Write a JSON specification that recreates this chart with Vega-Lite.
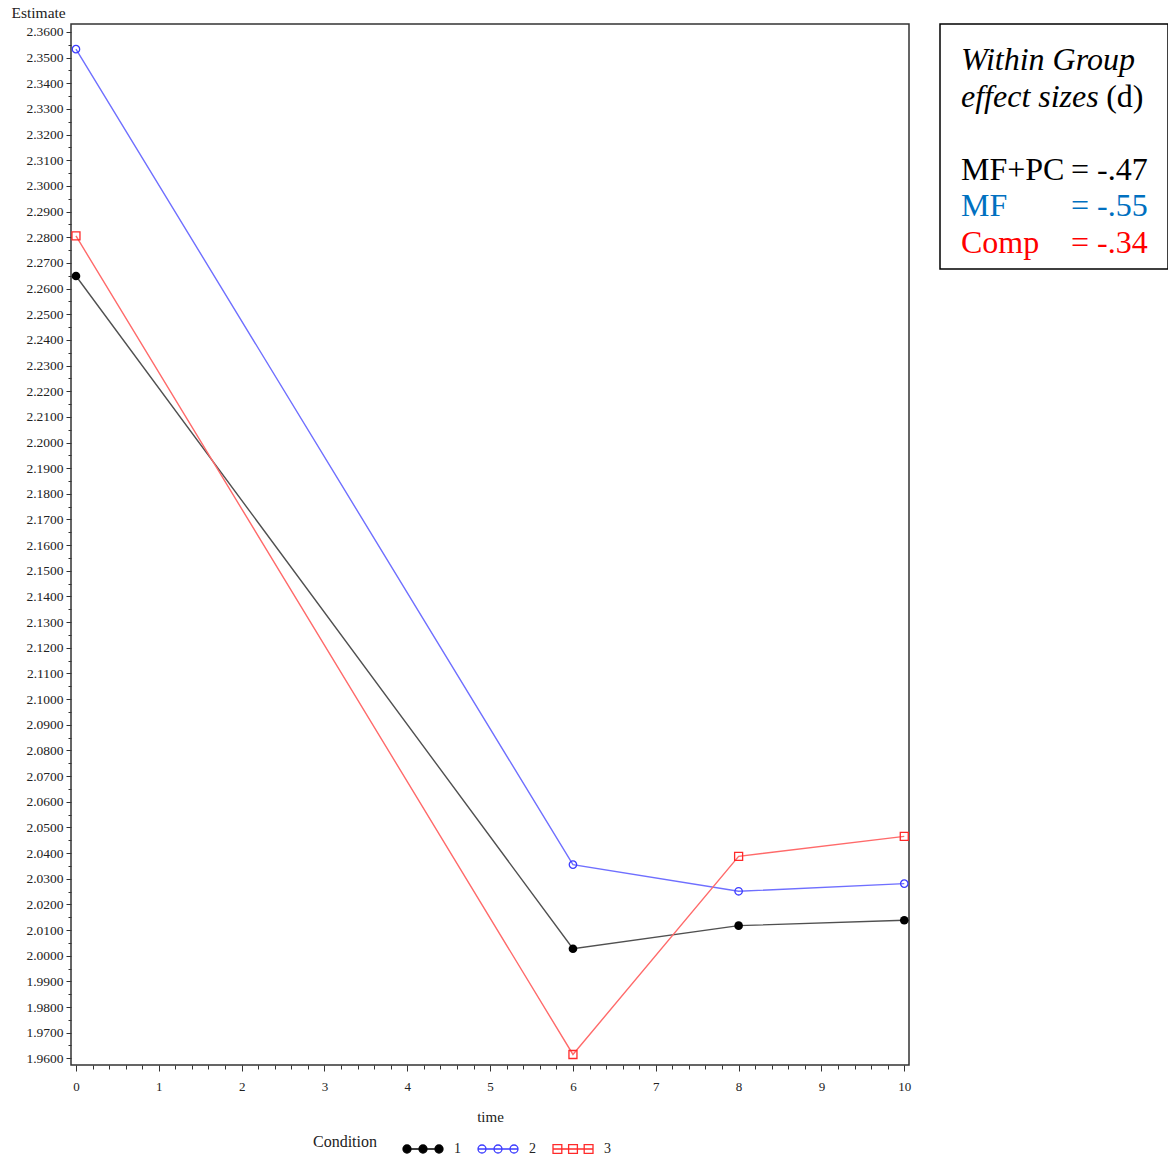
{
  "$schema": "https://vega.github.io/schema/vega-lite/v6.json",
  "background": "white",
  "autosize": {"type": "pad"},
  "padding": {"left": 10, "top": 4, "right": 0, "bottom": 0},
  "bounds": "flush",
  "spacing": 31,
  "config": {"view": {"stroke": null}, "font": "Liberation Serif"},
  "resolve": {"scale": {"x": "independent", "y": "independent", "fill": "independent", "stroke": "independent", "shape": "independent"}},
  "hconcat": [
    {
      "width": 838,
      "height": 1041,
      "view": {"stroke": "#333333", "strokeWidth": 1.5},
      "data": {"values": [
        {"Condition": 1, "time": 0, "Estimate": 2.2649},
        {"Condition": 1, "time": 6, "Estimate": 2.0027},
        {"Condition": 1, "time": 8, "Estimate": 2.0117},
        {"Condition": 1, "time": 10, "Estimate": 2.0138},
        {"Condition": 2, "time": 0, "Estimate": 2.3533},
        {"Condition": 2, "time": 6, "Estimate": 2.0355},
        {"Condition": 2, "time": 8, "Estimate": 2.0251},
        {"Condition": 2, "time": 10, "Estimate": 2.0281},
        {"Condition": 3, "time": 0, "Estimate": 2.2805},
        {"Condition": 3, "time": 6, "Estimate": 1.9615},
        {"Condition": 3, "time": 8, "Estimate": 2.0387},
        {"Condition": 3, "time": 10, "Estimate": 2.0465}
      ]},
      "encoding": {
        "x": {
          "field": "time", "type": "quantitative",
          "scale": {"domain": [-0.06, 10.057], "nice": false, "zero": false},
          "axis": {
            "values": [0,0.2,0.4,0.6,0.8,1,1.2,1.4,1.6,1.8,2,2.2,2.4,2.6,2.8,3,3.2,3.4,3.6,3.8,4,4.2,4.4,4.6,4.8,5,5.2,5.4,5.6,5.8,6,6.2,6.4,6.6,6.8,7,7.2,7.4,7.6,7.8,8,8.2,8.4,8.6,8.8,9,9.2,9.4,9.6,9.8,10],
            "labelExpr": "datum.value % 1 == 0 ? format(datum.value, 'd') : ''",
            "labelOverlap": false,
            "labelFlush": false,
            "tickSize": {"condition": {"test": "datum.value % 1 != 0", "value": 4}, "value": 6},
            "tickColor": "#333333",
            "tickWidth": 1,
            "domain": false,
            "grid": false,
            "labelFont": "Liberation Serif",
            "labelFontSize": 13,
            "labelColor": "#222222",
            "labelPadding": 9,
            "title": "time",
            "titleFont": "Liberation Serif",
            "titleFontSize": 15,
            "titleFontWeight": "normal",
            "titleColor": "#222222",
            "titlePadding": 16
          }
        },
        "y": {
          "field": "Estimate", "type": "quantitative",
          "scale": {"domain": [1.9574, 2.3631], "nice": false, "zero": false},
          "axis": {
            "values": [1.96,1.965,1.97,1.975,1.98,1.985,1.99,1.995,2,2.005,2.01,2.015,2.02,2.025,2.03,2.035,2.04,2.045,2.05,2.055,2.06,2.065,2.07,2.075,2.08,2.085,2.09,2.095,2.1,2.105,2.11,2.115,2.12,2.125,2.13,2.135,2.14,2.145,2.15,2.155,2.16,2.165,2.17,2.175,2.18,2.185,2.19,2.195,2.2,2.205,2.21,2.215,2.22,2.225,2.23,2.235,2.24,2.245,2.25,2.255,2.26,2.265,2.27,2.275,2.28,2.285,2.29,2.295,2.3,2.305,2.31,2.315,2.32,2.325,2.33,2.335,2.34,2.345,2.35,2.355,2.36],
            "labelExpr": "round(datum.value * 200) % 2 == 0 ? format(datum.value, '.4f') : ''",
            "labelOverlap": false,
            "labelFlush": false,
            "tickSize": {"condition": {"test": "round(datum.value * 200) % 2 == 1", "value": 3}, "value": 5},
            "tickColor": "#333333",
            "tickWidth": 1,
            "domain": false,
            "grid": false,
            "labelFont": "Liberation Serif",
            "labelFontSize": 13.5,
            "labelColor": "#222222",
            "labelPadding": 3,
            "title": "Estimate",
            "titleAngle": 0,
            "titleX": -60,
            "titleY": -7,
            "titleAlign": "left",
            "titleBaseline": "alphabetic",
            "titleFont": "Liberation Serif",
            "titleFontSize": 15.5,
            "titleFontWeight": "normal",
            "titleColor": "#222222"
          }
        }
      },
      "layer": [
        {"transform": [{"filter": "datum.Condition == 1"}], "mark": {"type": "line", "strokeWidth": 1.4, "color": "#505050"}, "encoding": {}},
        {"transform": [{"filter": "datum.Condition == 2"}], "mark": {"type": "line", "strokeWidth": 1.4, "color": "#6f6fff"}, "encoding": {}},
        {"transform": [{"filter": "datum.Condition == 3"}], "mark": {"type": "line", "strokeWidth": 1.4, "color": "#ff6a6a"}, "encoding": {}},
        {"transform": [{"filter": "datum.Condition == 1"}], "mark": {"type": "point", "shape": "circle", "size": 75, "filled": true, "color": "#000000", "opacity": 1}},
        {"transform": [{"filter": "datum.Condition == 2"}], "mark": {"type": "point", "shape": "circle", "size": 55, "filled": false, "color": "#3c3cff", "strokeWidth": 1.3, "opacity": 1}},
        {"transform": [{"filter": "datum.Condition == 3"}], "mark": {"type": "point", "shape": "square", "size": 64, "filled": false, "color": "#ff2a2a", "strokeWidth": 1.3, "opacity": 1}},
        {
          "mark": {"type": "point", "filled": true, "strokeWidth": 1.3, "opacity": 0},
          "encoding": {
            "shape": {
              "field": "Condition", "type": "nominal",
              "scale": {"domain": [1, 2, 3], "range": [
                "M-1,0L1,0M-1,0A0.2,0.2 0 1,0 -0.6,0A0.2,0.2 0 1,0 -1,0ZM-0.2,0A0.2,0.2 0 1,0 0.2,0A0.2,0.2 0 1,0 -0.2,0ZM0.6,0A0.2,0.2 0 1,0 1,0A0.2,0.2 0 1,0 0.6,0Z",
                "M-1,0L1,0M-1,0A0.2,0.2 0 1,0 -0.6,0A0.2,0.2 0 1,0 -1,0ZM-0.2,0A0.2,0.2 0 1,0 0.2,0A0.2,0.2 0 1,0 -0.2,0ZM0.6,0A0.2,0.2 0 1,0 1,0A0.2,0.2 0 1,0 0.6,0Z",
                "M-1,0L1,0M-1,-0.22H-0.56V0.22H-1ZM-0.22,-0.22H0.22V0.22H-0.22ZM0.56,-0.22H1V0.22H0.56Z"
              ]},
              "legend": {
                "orient": "none", "legendX": 242, "legendY": 1104, "direction": "horizontal",
                "title": "Condition", "titleOrient": "left", "titleAnchor": "middle", "titleBaseline": "middle", "titleFontSize": 16, "titleFontWeight": "normal", "titleColor": "#222222", "titlePadding": 24,
                "labelFontSize": 14, "labelColor": "#222222", "labelOffset": 10,
                "columnPadding": 14, "symbolSize": 1600, "symbolStrokeWidth": 1.3, "symbolOpacity": 1
              }
            },
            "stroke": {"field": "Condition", "type": "nominal", "scale": {"domain": [1, 2, 3], "range": ["#000000", "#3c3cff", "#ff2a2a"]},
              "legend": {
                "orient": "none", "legendX": 242, "legendY": 1104, "direction": "horizontal",
                "title": "Condition", "titleOrient": "left", "titleAnchor": "middle", "titleBaseline": "middle", "titleFontSize": 16, "titleFontWeight": "normal", "titleColor": "#222222", "titlePadding": 24,
                "labelFontSize": 14, "labelColor": "#222222", "labelOffset": 10,
                "columnPadding": 14, "symbolSize": 1600, "symbolStrokeWidth": 1.3, "symbolOpacity": 1
              }},
            "fill": {"field": "Condition", "type": "nominal", "scale": {"domain": [1, 2, 3], "range": ["#000000", "transparent", "transparent"]},
              "legend": {
                "orient": "none", "legendX": 242, "legendY": 1104, "direction": "horizontal",
                "title": "Condition", "titleOrient": "left", "titleAnchor": "middle", "titleBaseline": "middle", "titleFontSize": 16, "titleFontWeight": "normal", "titleColor": "#222222", "titlePadding": 24,
                "labelFontSize": 14, "labelColor": "#222222", "labelOffset": 10,
                "columnPadding": 14, "symbolSize": 1600, "symbolStrokeWidth": 1.3, "symbolOpacity": 1
              }}
          }
        }
      ]
    },
    {
      "width": 228,
      "height": 245,
      "view": {"stroke": "#000000", "strokeWidth": 1.5},
      "data": {"values": [
        {"line": 1, "col": 0, "text": "Within Group", "kind": "title", "group": "title"},
        {"line": 2, "col": 0, "text": "effect sizes", "kind": "title", "group": "title"},
        {"line": 2, "col": 1.32, "text": "(d)", "kind": "note", "group": "title"},
        {"line": 4, "col": 0, "text": "MF+PC", "kind": "stat", "group": "MF+PC"},
        {"line": 4, "col": 1, "text": "= -.47", "kind": "stat", "group": "MF+PC"},
        {"line": 5, "col": 0, "text": "MF", "kind": "stat", "group": "MF"},
        {"line": 5, "col": 1, "text": "= -.55", "kind": "stat", "group": "MF"},
        {"line": 6, "col": 0, "text": "Comp", "kind": "stat", "group": "Comp"},
        {"line": 6, "col": 1, "text": "= -.34", "kind": "stat", "group": "Comp"}
      ]},
      "encoding": {
        "x": {"field": "col", "type": "quantitative", "scale": {"domain": [-0.1909, 1.8818], "nice": false, "zero": false}, "axis": null},
        "y": {"field": "line", "type": "quantitative", "scale": {"domain": [-0.2603, 6.452], "nice": false, "zero": false, "reverse": true}, "axis": null},
        "text": {"field": "text", "type": "nominal"}
      },
      "layer": [
        {
          "transform": [{"filter": "datum.kind == 'title'"}],
          "mark": {"type": "text", "align": "left", "baseline": "alphabetic", "font": "Liberation Serif", "fontSize": 32, "fontStyle": "italic", "fill": "#000000"}
        },
        {
          "transform": [{"filter": "datum.kind == 'note'"}],
          "mark": {"type": "text", "align": "left", "baseline": "alphabetic", "font": "Liberation Serif", "fontSize": 32, "fill": "#000000"}
        },
        {
          "transform": [{"filter": "datum.group == 'MF+PC'"}],
          "mark": {"type": "text", "align": "left", "baseline": "alphabetic", "font": "Liberation Serif", "fontSize": 32, "fill": "#000000"}
        },
        {
          "transform": [{"filter": "datum.group == 'MF'"}],
          "mark": {"type": "text", "align": "left", "baseline": "alphabetic", "font": "Liberation Serif", "fontSize": 32, "fill": "#0070C0"}
        },
        {
          "transform": [{"filter": "datum.group == 'Comp'"}],
          "mark": {"type": "text", "align": "left", "baseline": "alphabetic", "font": "Liberation Serif", "fontSize": 32, "fill": "#FF0000"}
        }
      ]
    }
  ]
}
